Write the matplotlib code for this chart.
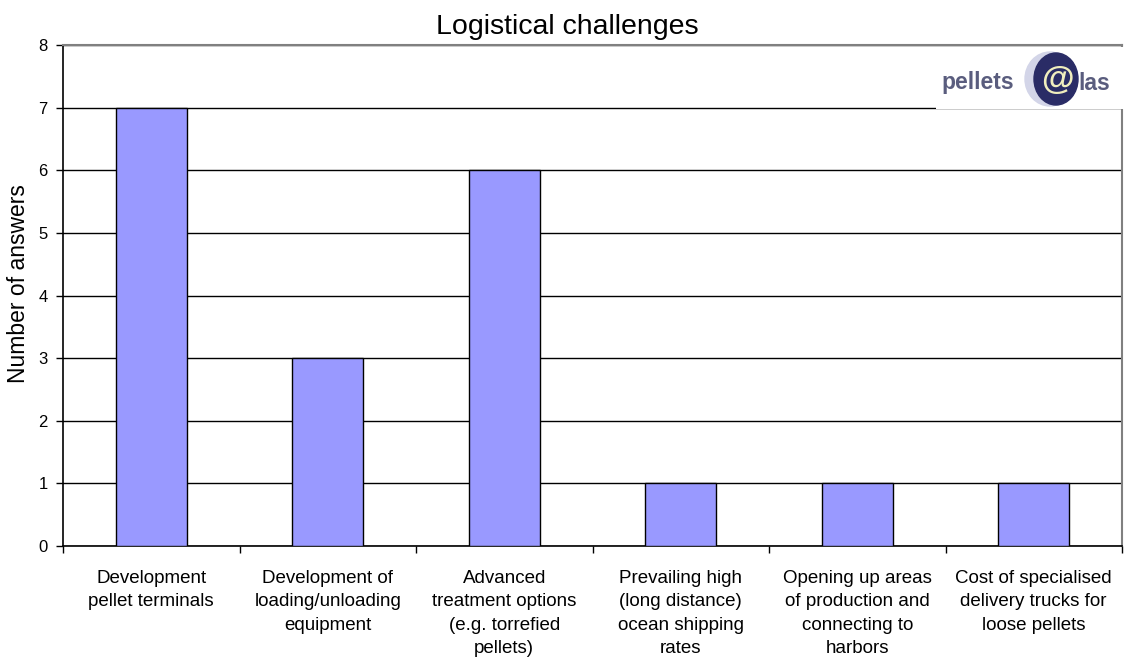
import matplotlib
matplotlib.use("Agg")
import matplotlib.pyplot as plt
from matplotlib.patches import Ellipse

plt.rcParams['font.family'] = ['Liberation Sans', 'DejaVu Sans']

categories = [
    "Development\npellet terminals",
    "Development of\nloading/unloading\nequipment",
    "Advanced\ntreatment options\n(e.g. torrefied\npellets)",
    "Prevailing high\n(long distance)\nocean shipping\nrates",
    "Opening up areas\nof production and\nconnecting to\nharbors",
    "Cost of specialised\ndelivery trucks for\nloose pellets",
]
answers = [7, 3, 6, 1, 1, 1]
y_ticks = [0, 1, 2, 3, 4, 5, 6, 7, 8]

W, H = 1124, 660
fig = plt.figure(figsize=(W / 100, H / 100), dpi=100)
ax = fig.add_axes([63 / W, 1 - 546 / H, (1122 - 63) / W, (546 - 45) / H])

x = list(range(len(categories)))
ax.bar(x, answers, width=0.4, color="#9999FF", edgecolor="black", linewidth=1.0, zorder=3)

ax.set_xlim(-0.5, len(categories) - 0.5)
ax.set_ylim(0, 8)
ax.set_yticks(y_ticks)
ax.tick_params(axis="y", direction="out", length=5, width=1, labelsize=12, pad=6)
ax.yaxis.grid(True, color="black", linewidth=1.0, zorder=0)

ax.set_xticks([i + 0.5 for i in range(-1, len(categories))])
ax.set_xticklabels([])
ax.set_xticks(x, minor=True)
ax.set_xticklabels(categories, minor=True, fontsize=13.5, linespacing=1.5, va="top")
ax.tick_params(axis="x", which="major", direction="out", length=5, width=1)
ax.tick_params(axis="x", which="minor", length=0, pad=17)

for side in ("top", "right"):
    ax.spines[side].set_color("#808080")
    ax.spines[side].set_linewidth(1.5)
for side in ("left", "bottom"):
    ax.spines[side].set_color("black")
    ax.spines[side].set_linewidth(1.2)

ax.set_ylabel("Number of answers", fontsize=16.5)
ax.yaxis.set_label_coords((30 - 63) / (1122 - 63), (546 - 284) / (546 - 45))
fig.text(567 / W, 1 - 27 / H, "Logistical challenges",
         ha="center", va="center", fontsize=20.5)

# pellets@las logo in the upper right corner
lx0, ly0, lx1, ly1 = 936, 47, 1124, 109
lax = fig.add_axes([lx0 / W, 1 - ly1 / H, (lx1 - lx0) / W, (ly1 - ly0) / H], zorder=5)
lax.set_xlim(lx0, lx1)
lax.set_ylim(ly1, ly0)
lax.set_facecolor("white")
for s in lax.spines.values():
    s.set_visible(False)
lax.set_xticks([])
lax.set_yticks([])
lax.add_patch(Ellipse((1050, 79), 50, 54, color="#D3D5E8", zorder=1))
lax.add_patch(Ellipse((1056, 79), 44, 52, color="#2A2C66", zorder=2))
lax.text(1057, 80, "@", color="#F0EEBE", fontsize=24, fontweight="bold",
         ha="center", va="center", zorder=3)
lax.text(941, 83, "pellets", color="#5A5D7E", fontsize=16.5, fontweight="bold",
         ha="left", va="center", zorder=3)
lax.text(1078, 83, "las", color="#5A5D7E", fontsize=16.5, fontweight="bold",
         ha="left", va="center", zorder=3)

fig.savefig("out.png", dpi=100)
